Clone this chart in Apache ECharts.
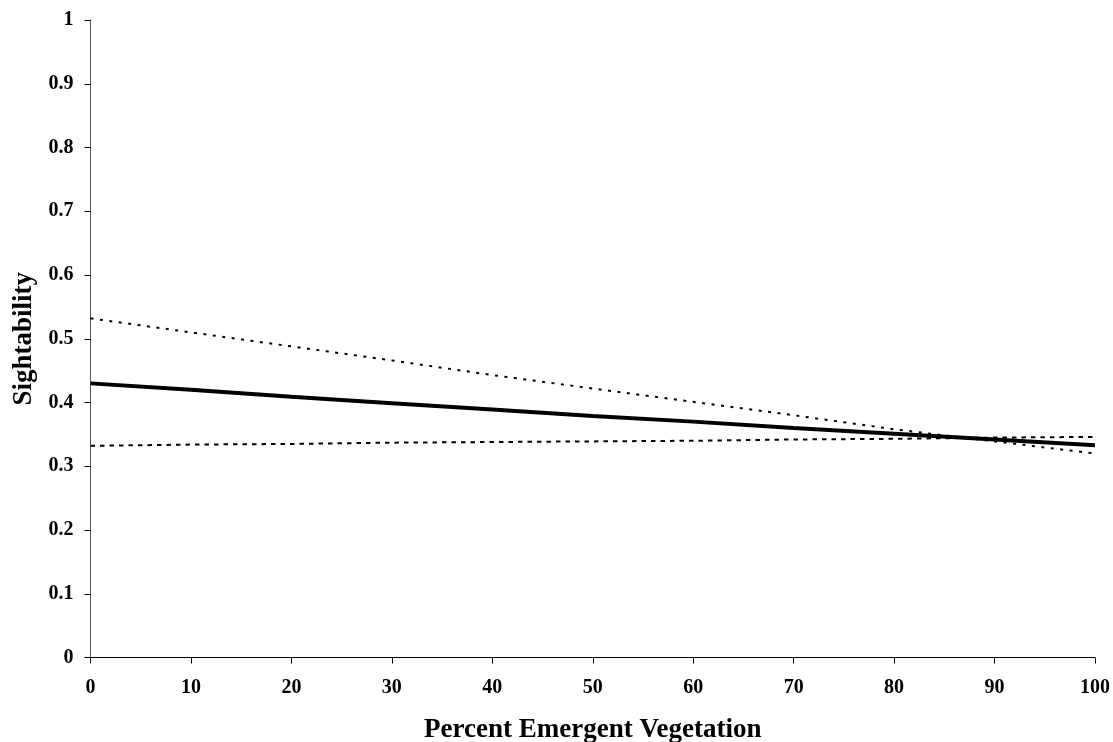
<!DOCTYPE html>
<html>
<head>
<meta charset="utf-8">
<script src="https://cdn.jsdelivr.net/npm/echarts@6/dist/echarts.min.js"></script>
<style>html,body{margin:0;padding:0;background:#fff;}#c{width:1113px;height:742px;}</style>
</head>
<body>
<div id="c"></div>
<script>
const xValues = [0, 10, 20, 30, 40, 50, 60, 70, 80, 90, 100];
const sightability = [0.430, 0.420, 0.409, 0.399, 0.389, 0.379, 0.370, 0.360, 0.351, 0.342, 0.333];
const upperBound = [0.532, 0.510, 0.488, 0.466, 0.443, 0.422, 0.401, 0.380, 0.358, 0.339, 0.320];
const lowerBound = [0.332, 0.334, 0.335, 0.337, 0.338, 0.339, 0.340, 0.342, 0.343, 0.345, 0.346];
const xTitle = 'Percent Emergent Vegetation';
const yTitle = 'Sightability';

const pairs = arr => xValues.map((x, i) => [x, arr[i]]);
const font = 'Liberation Serif';
const chart = echarts.init(document.getElementById('c'), null, {renderer: 'canvas'});
chart.setOption({
  animation: false,
  backgroundColor: '#fff',
  grid: {left: 90.5, right: 18, top: 20, bottom: 84.5, containLabel: false, outerBoundsMode: 'none'},
  xAxis: {
    type: 'value', min: 0, max: 100, interval: 10,
    name: xTitle, nameLocation: 'middle', nameGap: 59,
    nameTextStyle: {fontFamily: font, fontWeight: 'bold', fontSize: 27, color: '#000'},
    axisLine: {show: true, onZero: false, lineStyle: {color: '#000', width: 1}},
    axisTick: {show: true, inside: false, length: 6, lineStyle: {color: '#000'}},
    axisLabel: {fontFamily: font, fontWeight: 'bold', fontSize: 20, color: '#000', margin: 20},
    splitLine: {show: false}
  },
  yAxis: {
    type: 'value', min: 0, max: 1, interval: 0.1,
    name: yTitle, nameLocation: 'middle', nameGap: 53, nameRotate: 90,
    nameTextStyle: {fontFamily: font, fontWeight: 'bold', fontSize: 27, color: '#000'},
    axisLine: {show: true, onZero: false, lineStyle: {color: '#555', width: 1}},
    axisTick: {show: true, inside: false, length: 6, lineStyle: {color: '#000'}},
    axisLabel: {fontFamily: font, fontWeight: 'bold', fontSize: 20, color: '#000', margin: 17,
      formatter: v => String(Math.round(v * 10) / 10)},
    splitLine: {show: false}
  },
  series: [
    {type: 'line', data: pairs(upperBound), showSymbol: false, smooth: false,
     lineStyle: {color: '#000', width: 2, type: [3, 6.5]}},
    {type: 'line', data: pairs(lowerBound), showSymbol: false, smooth: false,
     lineStyle: {color: '#000', width: 2, type: [4.5, 5]}},
    {type: 'line', data: pairs(sightability), showSymbol: false, smooth: false,
     lineStyle: {color: '#000', width: 4}}
  ]
});
</script>
</body>
</html>
